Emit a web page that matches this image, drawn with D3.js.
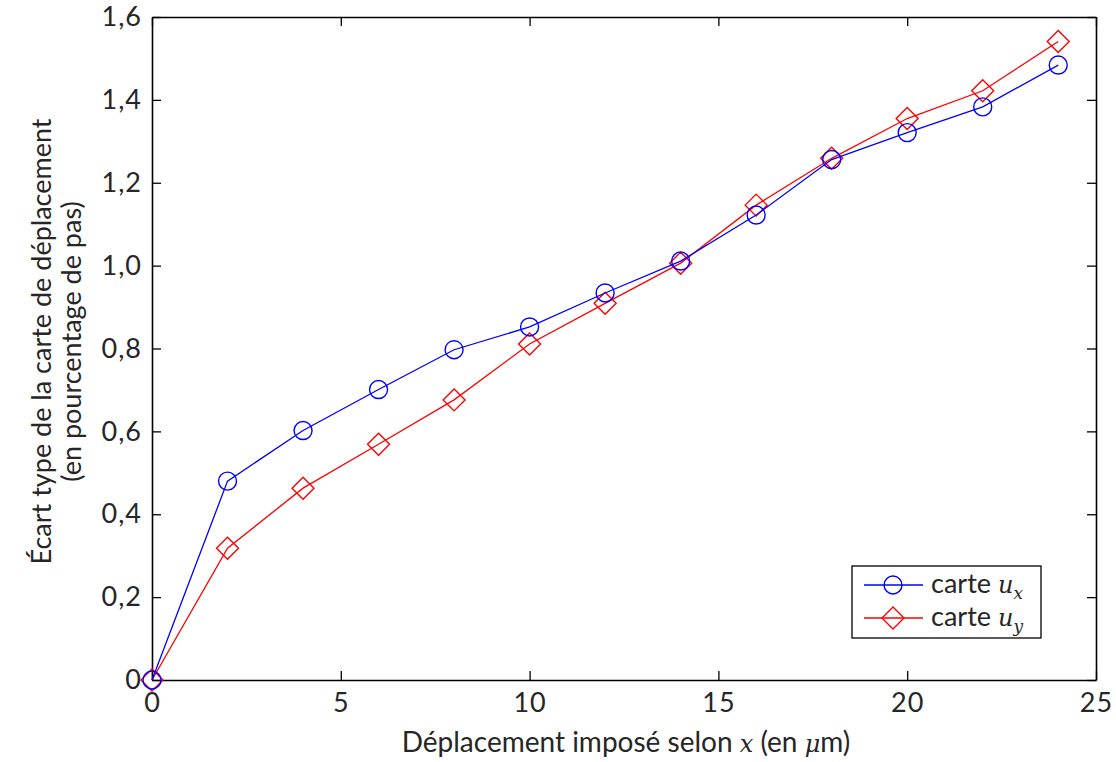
<!DOCTYPE html>
<html>
<head>
<meta charset="utf-8">
<script src="https://cdn.jsdelivr.net/npm/d3@7"></script>
<style>
  body { margin: 0; background: #fff; }
  text { font-family: Lato, "Open Sans", sans-serif; fill: #262626; }
</style>
</head>
<body>
<div id="chart"></div>
<script>
// deplacement impose (um)
var deplacement = [0, 2, 4, 6, 8, 10, 12, 14, 16, 18, 20, 22, 24];
// ecart type, carte ux et carte uy
var carteUx = [0, 0.480, 0.602, 0.701, 0.797, 0.852, 0.934, 1.011, 1.122, 1.256, 1.321, 1.383, 1.484];
var carteUy = [0, 0.318, 0.463, 0.569, 0.676, 0.811, 0.909, 1.006, 1.146, 1.259, 1.355, 1.422, 1.541];
var xTicks = [0, 5, 10, 15, 20, 25];
var yTicks = [0, 0.2, 0.4, 0.6, 0.8, 1.0, 1.2, 1.4, 1.6];

var width = 1116, height = 762;
var margin = {top: 17, right: 20, bottom: 82, left: 152};
var w = width - margin.left - margin.right,
    h = height - margin.top - margin.bottom;

var svg = d3.select("#chart").append("svg")
    .attr("width", width)
    .attr("height", height);

var g = svg.append("g")
    .attr("transform", "translate(" + margin.left + "," + margin.top + ")");

var x = d3.scaleLinear().domain([0, 25]).range([0, w]);
var y = d3.scaleLinear().domain([0, 1.6]).range([h, 0]);

var fmt = function(d) { return d === 0 ? "0" : d3.format(".1f")(d).replace(".", ","); };

function styleAxis(sel, labels) {
  sel.select(".domain").attr("stroke", "#000").attr("stroke-width", 1.6);
  sel.selectAll(".tick line").attr("stroke", "#000").attr("stroke-width", 1.3);
  sel.selectAll(".tick text").attr("font-size", 27).attr("letter-spacing", 1).attr("fill", "#262626")
      .attr("font-family", "Lato, sans-serif");
  if (!labels) sel.selectAll(".tick text").remove();
}

// bottom / left with labels, top / right as mirror box
g.append("g")
    .attr("transform", "translate(0," + h + ")")
    .call(d3.axisBottom(x).tickValues(xTicks).tickSizeInner(-9).tickSizeOuter(0).tickPadding(13))
    .call(styleAxis, true);
g.append("g")
    .call(d3.axisTop(x).tickValues(xTicks).tickSizeInner(-9).tickSizeOuter(0))
    .call(styleAxis, false);
g.append("g")
    .call(d3.axisLeft(y).tickValues(yTicks).tickFormat(fmt).tickSizeInner(-9).tickSizeOuter(0).tickPadding(10))
    .call(styleAxis, true);
g.append("g")
    .attr("transform", "translate(" + w + ",0)")
    .call(d3.axisRight(y).tickValues(yTicks).tickSizeInner(-9).tickSizeOuter(0))
    .call(styleAxis, false);

var series = [
  {name: "y", values: carteUy, color: "#ff0000", marker: "diamond"},
  {name: "x", values: carteUx, color: "#0000ff", marker: "circle"}
];

var line = d3.line()
    .x(function(d, i) { return x(deplacement[i]); })
    .y(function(d) { return y(d); });

function drawMarker(sel, s) {
  if (s.marker == "circle") {
    sel.append("circle")
        .attr("r", 9)
        .attr("fill", "none")
        .attr("stroke", s.color)
        .attr("stroke-width", 1.4);
  } else {
    sel.append("path")
        .attr("d", "M0,-11L11,0L0,11L-11,0Z")
        .attr("fill", "none")
        .attr("stroke", s.color)
        .attr("stroke-width", 1.4);
  }
}

series.forEach(function(s) {
  g.append("path")
      .datum(s.values)
      .attr("fill", "none")
      .attr("stroke", s.color)
      .attr("stroke-width", 1.3)
      .attr("d", line);
  g.selectAll(".m" + s.marker)
      .data(s.values)
    .enter().append("g")
      .attr("class", "m" + s.marker)
      .attr("transform", function(d, i) { return "translate(" + x(deplacement[i]) + "," + y(d) + ")"; })
      .each(function() { drawMarker(d3.select(this), s); });
});

// legend
var leg = g.append("g").attr("transform", "translate(" + (852 - margin.left) + "," + (566 - margin.top) + ")");
leg.append("rect")
    .attr("width", 189).attr("height", 72)
    .attr("fill", "#fff").attr("stroke", "#000").attr("stroke-width", 1.3);
[series[1], series[0]].forEach(function(s, i) {
  var ly = 19 + i * 33;
  leg.append("line")
      .attr("x1", 12).attr("x2", 71).attr("y1", ly).attr("y2", ly)
      .attr("stroke", s.color).attr("stroke-width", 1.3);
  drawMarker(leg.append("g").attr("transform", "translate(41," + ly + ")"), s);
  var t = leg.append("text")
      .attr("x", 79).attr("y", ly + 8)
      .attr("font-size", 27);
  t.append("tspan").text("carte ");
  t.append("tspan").attr("font-style", "italic").attr("font-family", "'DejaVu Serif', serif")
      .attr("font-size", 24).text("u");
  t.append("tspan").attr("font-style", "italic").attr("font-family", "'DejaVu Serif', serif")
      .attr("font-size", 17).attr("dy", 6).text(s.name);
});

// axis titles
var xl = svg.append("text")
    .attr("x", margin.left + w / 2 + 2)
    .attr("y", 752)
    .attr("text-anchor", "middle")
    .attr("font-size", 28);
xl.append("tspan").text("Déplacement imposé selon ");
xl.append("tspan").attr("font-style", "italic").attr("font-family", "'DejaVu Serif', serif")
    .attr("font-size", 24).text("x");
xl.append("tspan").text(" (en ");
xl.append("tspan").attr("font-style", "italic").attr("font-family", "'DejaVu Serif', serif")
    .attr("font-size", 24).text("μ");
xl.append("tspan").text("m)");

var cy = margin.top + h / 2 - 7;
svg.append("text")
    .attr("transform", "translate(51," + cy + ") rotate(-90)")
    .attr("text-anchor", "middle")
    .attr("font-size", 27)
    .text("Écart type de la carte de déplacement");
svg.append("text")
    .attr("transform", "translate(81," + cy + ") rotate(-90)")
    .attr("text-anchor", "middle")
    .attr("font-size", 27)
    .text("(en pourcentage de pas)");
</script>
</body>
</html>
